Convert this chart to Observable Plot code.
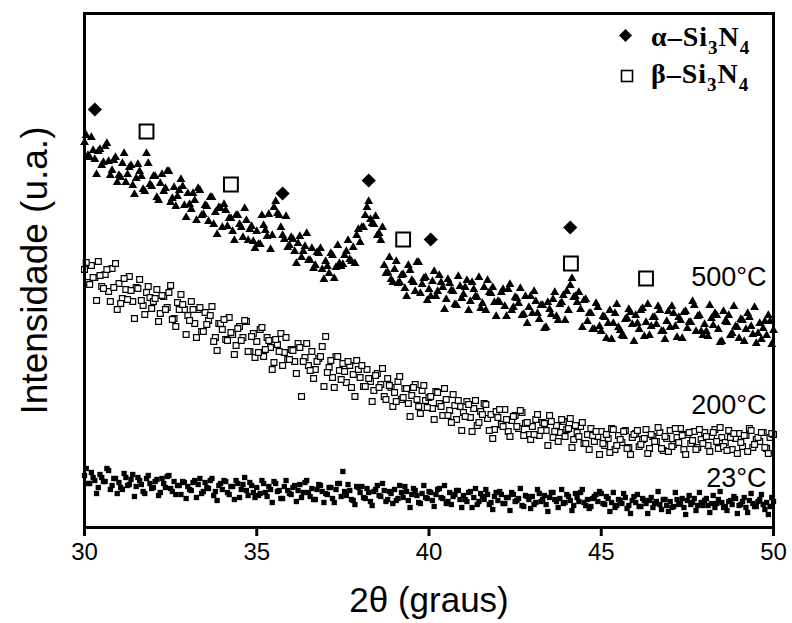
<!DOCTYPE html>
<html>
<head>
<meta charset="utf-8">
<script src="https://cdn.jsdelivr.net/npm/d3@7"></script>
<script src="https://cdn.jsdelivr.net/npm/@observablehq/plot@0.6"></script>
<style>
  body { margin: 0; background: white; }
  #chart { position: relative; width: 792px; height: 623px; }
  #legend { position: absolute; left: 0; top: 0; pointer-events: none; }
</style>
</head>
<body>
<div id="chart">
  <svg id="legend" width="792" height="623" font-family="Liberation Serif, DejaVu Serif, serif" font-weight="bold">
    <path d="M625.5 29 L632 35.5 L625.5 42 L619 35.5 Z" fill="black"/>
    <text x="651" y="46" font-size="28" letter-spacing="1">α–Si<tspan font-size="19" dy="8">3</tspan><tspan dy="-8">N</tspan><tspan font-size="19" dy="8">4</tspan></text>
    <rect x="621.5" y="70.5" width="11" height="11" fill="white" stroke="black" stroke-width="1.6"/>
    <text x="651" y="83" font-size="28" letter-spacing="1">β–Si<tspan font-size="19" dy="8">3</tspan><tspan dy="-8">N</tspan><tspan font-size="19" dy="8">4</tspan></text>
  </svg>
</div>
<script>
// 2θ scan grid (degrees), whole tenths
const angles = [
30.0,30.1,30.2,30.3,30.4,30.5,30.6,30.7,30.8,30.9,
31.0,31.1,31.2,31.3,31.4,31.5,31.6,31.7,31.8,31.9,
32.0,32.1,32.2,32.3,32.4,32.5,32.6,32.7,32.8,32.9,
33.0,33.1,33.2,33.3,33.4,33.5,33.6,33.7,33.8,33.9,
34.0,34.1,34.2,34.3,34.4,34.5,34.6,34.7,34.8,34.9,
35.0,35.1,35.2,35.3,35.4,35.5,35.6,35.7,35.8,35.9,
36.0,36.1,36.2,36.3,36.4,36.5,36.6,36.7,36.8,36.9,
37.0,37.1,37.2,37.3,37.4,37.5,37.6,37.7,37.8,37.9,
38.0,38.1,38.2,38.3,38.4,38.5,38.6,38.7,38.8,38.9,
39.0,39.1,39.2,39.3,39.4,39.5,39.6,39.7,39.8,39.9,
40.0,40.1,40.2,40.3,40.4,40.5,40.6,40.7,40.8,40.9,
41.0,41.1,41.2,41.3,41.4,41.5,41.6,41.7,41.8,41.9,
42.0,42.1,42.2,42.3,42.4,42.5,42.6,42.7,42.8,42.9,
43.0,43.1,43.2,43.3,43.4,43.5,43.6,43.7,43.8,43.9,
44.0,44.1,44.2,44.3,44.4,44.5,44.6,44.7,44.8,44.9,
45.0,45.1,45.2,45.3,45.4,45.5,45.6,45.7,45.8,45.9,
46.0,46.1,46.2,46.3,46.4,46.5,46.6,46.7,46.8,46.9,
47.0,47.1,47.2,47.3,47.4,47.5,47.6,47.7,47.8,47.9,
48.0,48.1,48.2,48.3,48.4,48.5,48.6,48.7,48.8,48.9,
49.0,49.1,49.2,49.3,49.4,49.5,49.6,49.7,49.8,49.9,
50.0
];
// 2θ scan grid (degrees), half-steps
const anglesMid = [
30.05,30.15,30.25,30.35,30.45,30.55,30.65,30.75,30.85,30.95,
31.05,31.15,31.25,31.35,31.45,31.55,31.65,31.75,31.85,31.95,
32.05,32.15,32.25,32.35,32.45,32.55,32.65,32.75,32.85,32.95,
33.05,33.15,33.25,33.35,33.45,33.55,33.65,33.75,33.85,33.95,
34.05,34.15,34.25,34.35,34.45,34.55,34.65,34.75,34.85,34.95,
35.05,35.15,35.25,35.35,35.45,35.55,35.65,35.75,35.85,35.95,
36.05,36.15,36.25,36.35,36.45,36.55,36.65,36.75,36.85,36.95,
37.05,37.15,37.25,37.35,37.45,37.55,37.65,37.75,37.85,37.95,
38.05,38.15,38.25,38.35,38.45,38.55,38.65,38.75,38.85,38.95,
39.05,39.15,39.25,39.35,39.45,39.55,39.65,39.75,39.85,39.95,
40.05,40.15,40.25,40.35,40.45,40.55,40.65,40.75,40.85,40.95,
41.05,41.15,41.25,41.35,41.45,41.55,41.65,41.75,41.85,41.95,
42.05,42.15,42.25,42.35,42.45,42.55,42.65,42.75,42.85,42.95,
43.05,43.15,43.25,43.35,43.45,43.55,43.65,43.75,43.85,43.95,
44.05,44.15,44.25,44.35,44.45,44.55,44.65,44.75,44.85,44.95,
45.05,45.15,45.25,45.35,45.45,45.55,45.65,45.75,45.85,45.95,
46.05,46.15,46.25,46.35,46.45,46.55,46.65,46.75,46.85,46.95,
47.05,47.15,47.25,47.35,47.45,47.55,47.65,47.75,47.85,47.95,
48.05,48.15,48.25,48.35,48.45,48.55,48.65,48.75,48.85,48.95,
49.05,49.15,49.25,49.35,49.45,49.55,49.65,49.75,49.85,49.95
];

// Intensity (a.u.) — 500 °C
const int500 = [
385,372,390,368,376,362,381,366,357,370,
352,364,345,360,342,349,356,338,374,343,
351,330,344,336,356,325,340,331,348,322,
334,318,327,339,312,322,306,330,315,320,
300,317,309,296,312,303,290,307,298,286,
296,283,302,291,278,320,314,300,288,280,
290,276,284,270,281,267,279,262,274,258,
266,254,272,260,264,263,276,268,280,292,
285,300,320,308,303,292,287,262,255,248,
258,244,252,239,262,247,236,265,243,250,
238,246,231,252,240,228,244,236,222,241,
233,247,226,238,230,219,240,247,234,225,
226,235,221,238,217,230,224,212,231,220,
214,226,208,222,200,218,228,211,223,232,
236,242,230,225,218,227,206,214,198,220,
196,210,204,188,214,200,192,208,218,203,
212,198,219,205,192,210,203,217,196,206,
200,214,190,207,215,199,205,222,211,196,
203,191,209,214,198,186,206,212,194,201,
189,207,198,210,193,184,204,199,192,206,
197
];
const int500Mid = [
392,370,377,353,378,365,384,352,367,345,
350,374,353,362,333,363,351,336,364,341,
351,327,353,339,356,329,321,337,341,310,
323,334,307,337,313,321,330,303,293,319,
323,301,309,287,312,300,319,287,301,279,
283,312,297,313,292,326,312,292,311,282,
288,264,291,276,294,267,259,275,279,248,
261,274,249,282,261,272,287,266,264,298,
300,312,326,304,311,294,300,254,270,245,
266,245,253,231,257,245,265,234,249,227,
231,256,236,245,218,248,237,223,251,229,
240,217,245,231,250,224,217,235,240,211,
225,238,211,243,220,229,239,213,204,231,
236,214,222,199,225,213,235,207,225,207,
217,249,231,235,200,228,214,198,224,201,
211,189,217,204,223,197,191,209,215,186,
204,217,191,223,201,210,221,196,188,216,
221,201,210,189,216,205,226,196,212,192,
196,222,202,212,185,216,205,192,221,200,
208,186,214,201,220,194,188,206,212,183
];

// Intensity (a.u.) — 200 °C
const int200 = [
258,245,262,250,266,241,253,236,259,264,
244,229,238,251,226,240,248,222,235,230,
226,238,214,231,220,242,209,225,233,218,
212,226,204,218,196,215,207,221,190,204,
198,188,210,193,182,201,190,206,176,194,
186,198,171,190,180,165,183,194,175,168,
178,166,184,131,170,162,176,158,169,181,
191,160,150,171,157,164,145,162,153,167,
150,141,158,146,137,154,143,131,149,140,
135,146,128,139,124,132,143,121,137,127,
130,119,136,124,112,128,117,133,108,121,
115,126,110,119,102,116,124,109,113,98,
110,103,118,96,107,112,99,115,104,93,
101,108,92,105,97,112,90,102,95,106,
98,109,88,95,101,84,93,99,86,91,
96,82,89,99,78,92,85,97,80,90,
94,81,88,98,79,91,86,95,77,89,
97,83,90,99,78,93,84,96,80,88,
95,82,91,98,79,90,85,97,78,89,
94,81,92,99,80,88,86,95,79,90,
93
];
const int200Mid = [
265,243,250,227,252,239,258,226,240,218,
224,249,228,237,209,239,227,213,241,219,
229,206,232,218,235,208,201,218,223,193,
207,218,190,220,196,203,212,186,177,204,
208,187,195,173,199,187,207,176,191,170,
175,200,178,187,158,188,176,162,190,168,
177,154,180,166,184,157,149,166,171,141,
155,167,140,171,148,156,166,140,131,158,
162,141,149,126,152,140,159,128,142,121,
126,151,130,139,111,140,128,114,142,120,
131,108,135,121,139,112,105,122,127,97,
111,123,96,127,105,113,123,97,89,116,
118,101,108,91,111,101,117,92,105,88,
93,113,97,104,82,106,96,86,108,91,
99,80,102,91,105,84,78,92,96,73,
84,93,75,98,82,88,96,79,73,93,
97,83,89,74,93,86,100,79,91,76,
81,99,85,92,73,95,87,78,98,84,
91,76,95,86,100,81,77,90,94,74,
85,92,76,97,83,90,95,80,74,94
];

// Intensity (a.u.) — 23 °C
const int23 = [
52,44,55,47,40,50,46,57,42,49,
45,38,50,43,53,41,47,36,49,44,
40,48,35,44,51,39,46,42,33,45,
41,37,47,43,34,45,39,49,36,42,
38,46,33,41,47,30,43,37,45,35,
40,34,44,31,38,46,36,29,41,37,
33,42,37,30,45,35,39,28,43,36,
34,40,29,38,44,56,32,37,27,41,
35,30,39,26,36,42,31,37,28,34,
38,29,35,41,27,33,37,25,34,30,
36,27,33,39,29,24,35,31,37,28,
32,26,36,30,23,34,28,33,25,31,
27,33,24,30,35,26,29,22,32,28,
31,25,34,28,23,30,35,26,29,24,
33,27,22,30,35,25,28,21,31,26,
34,23,29,25,20,28,24,30,22,27,
25,21,29,24,27,20,26,23,28,22,
26,21,28,24,20,27,23,29,22,25,
27,22,24,20,28,25,21,26,23,29,
22,26,20,27,24,21,28,23,25,21,
26
];
const int23Mid = [
59,44,50,34,53,46,59,38,49,34,
40,54,42,48,31,50,43,34,52,39,
46,32,49,40,52,36,33,42,46,29,
38,45,30,49,36,40,47,32,27,44,
47,35,41,28,44,38,50,32,42,30,
32,47,35,41,25,44,37,29,47,34,
40,26,43,35,47,31,28,38,42,25,
33,40,25,44,31,36,43,28,23,40,
41,29,35,22,38,32,44,26,36,24,
27,42,30,36,20,39,32,24,42,29,
35,21,38,30,42,26,23,33,37,20,
28,35,20,39,26,31,38,23,18,35,
36,24,30,17,33,27,39,21,31,19,
23,38,26,32,16,35,28,20,38,25,
31,17,34,26,38,22,19,29,33,36,
24,31,16,35,22,27,34,19,14,31,
33,21,27,14,30,24,36,18,28,16,
20,35,23,29,13,32,25,17,35,22,
29,15,32,24,36,20,17,27,31,14,
23,30,15,34,21,26,33,18,13,30
];

// Peak identification markers
const alphaAngles = [30.3, 35.75, 38.25, 40.05, 44.1];
const alphaLevels = [418, 334, 347, 288, 300];
const betaAngles = [31.8, 34.25, 39.25, 44.12, 46.3];
const betaLevels = [396, 343, 288, 264, 249];

// Series labels
const seriesNames = ["500°C", "200°C", "23°C"];
const seriesLabelLevels = [250, 122, 49];

const xTicks = [30, 35, 40, 45, 50];

const pair = (xs, vs) => xs.map((a, i) => ({a, v: vs[i]}));
const s500 = pair(angles, int500).concat(pair(anglesMid, int500Mid));
const s200 = pair(angles, int200).concat(pair(anglesMid, int200Mid));
const s23 = pair(angles, int23).concat(pair(anglesMid, int23Mid));
const alpha = pair(alphaAngles, alphaLevels);
const beta = pair(betaAngles, betaLevels);
const labels = seriesNames.map((t, i) => ({t, v: seriesLabelLevels[i]}));

const chart = Plot.plot({
  width: 792,
  height: 623,
  marginLeft: 84,
  marginRight: 19,
  marginTop: 13,
  marginBottom: 96,
  style: {fontFamily: "Liberation Sans, Arial, sans-serif", fontSize: "24px", background: "white", color: "black"},
  x: {domain: [30, 50]},
  y: {domain: [0, 514], axis: null},
  marks: [
    Plot.dot(s23, {x: "a", y: "v", symbol: "square", r: 3.0, fill: "black", stroke: "none"}),
    Plot.dot(s200, {x: "a", y: "v", symbol: "square", r: 3.3, fill: "white", stroke: "black", strokeWidth: 1.2}),
    Plot.dot(s500, {x: "a", y: "v", symbol: "triangle", r: 3.3, fill: "black", stroke: "none"}),
    Plot.dot(alpha, {x: "a", y: "v", symbol: "diamond2", r: 6.4, fill: "black", stroke: "none"}),
    Plot.dot(beta, {x: "a", y: "v", symbol: "square", r: 7.8, fill: "white", stroke: "black", strokeWidth: 2}),
    Plot.text(labels, {x: () => 50, y: "v", text: "t", textAnchor: "end", dx: -7, fontSize: 27}),
    Plot.frame({stroke: "black", strokeWidth: 3}),
    Plot.axisX({ticks: xTicks, tickSize: 9, strokeWidth: 3, tickPadding: 6, fontSize: 24, label: null}),
    Plot.text(["2θ (graus)"], {frameAnchor: "bottom", dy: 73, fontSize: 35, textAnchor: "middle", lineAnchor: "middle"}),
    Plot.text(["Intensidade (u.a.)"], {frameAnchor: "left", dx: -49, rotate: -90, fontSize: 37, textAnchor: "middle", lineAnchor: "middle"})
  ]
});
document.getElementById("chart").prepend(chart);
</script>
</body>
</html>
